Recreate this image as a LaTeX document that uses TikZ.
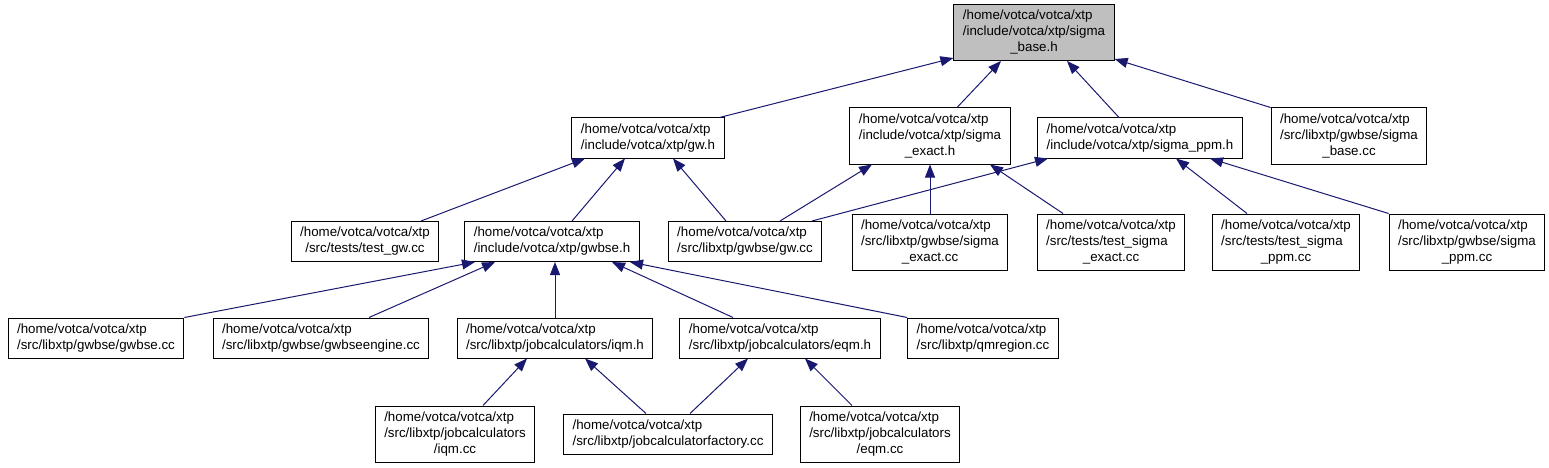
\documentclass[tikz,border=0pt]{standalone}
\usepackage{fontspec}
\setmainfont{Liberation Sans}
\usepackage{tikz}
\usetikzlibrary{arrows.meta}
\definecolor{edgeblue}{RGB}{25,25,112}
\definecolor{rootgray}{RGB}{191,191,191}
% last line of a label is centred, the others start flush left
\newcommand{\twolines}[2]{\begin{tabular}{@{}l@{}}#1\\\multicolumn{1}{@{}c@{}}{#2}\end{tabular}}
\newcommand{\threelines}[3]{\begin{tabular}{@{}l@{}}#1\\#2\\\multicolumn{1}{@{}c@{}}{#3}\end{tabular}}
\tikzset{
  filebox/.style={draw, line width=1pt, fill=white, inner xsep=9pt, inner ysep=4pt, font=\fontsize{13.33}{16}\selectfont},
  rootbox/.style={filebox, fill=rootgray},
  line/.style={draw=edgeblue, line width=1pt, -{Triangle[length=13pt,width=10pt]}}
}

\begin{document}
\begin{tikzpicture}[x=1pt, y=-1pt]
  \useasboundingbox (0,0) rectangle (1549,468);

  % header itself
  \node[rootbox] (sigmabase) at (1034,32.5) {\threelines{/home/votca/votca/xtp}{/include/votca/xtp/sigma}{\_base.h}};

  % second row
  \node[filebox] (gwh) at (648,138) {\twolines{/home/votca/votca/xtp}{/include/votca/xtp/gw.h}};
  \node[filebox] (sigmaexacth) at (930,136) {\threelines{/home/votca/votca/xtp}{/include/votca/xtp/sigma}{\_exact.h}};
  \node[filebox] (sigmappmh) at (1140,138) {\twolines{/home/votca/votca/xtp}{/include/votca/xtp/sigma\_ppm.h}};
  \node[filebox] (sigmabasecc) at (1349,136) {\threelines{/home/votca/votca/xtp}{/src/libxtp/gwbse/sigma}{\_base.cc}};

  % third row
  \node[filebox] (testgwcc) at (365,241.5) {\twolines{/home/votca/votca/xtp}{/src/tests/test\_gw.cc}};
  \node[filebox] (gwbseh) at (552,241.5) {\twolines{/home/votca/votca/xtp}{/include/votca/xtp/gwbse.h}};
  \node[filebox] (gwcc) at (745,241.5) {\twolines{/home/votca/votca/xtp}{/src/libxtp/gwbse/gw.cc}};
  \node[filebox] (sigmaexactcc) at (930,242) {\threelines{/home/votca/votca/xtp}{/src/libxtp/gwbse/sigma}{\_exact.cc}};
  \node[filebox] (testsigmaexactcc) at (1111,242) {\threelines{/home/votca/votca/xtp}{/src/tests/test\_sigma}{\_exact.cc}};
  \node[filebox] (testsigmappmcc) at (1286,242) {\threelines{/home/votca/votca/xtp}{/src/tests/test\_sigma}{\_ppm.cc}};
  \node[filebox] (sigmappmcc) at (1467,242) {\threelines{/home/votca/votca/xtp}{/src/libxtp/gwbse/sigma}{\_ppm.cc}};

  % fourth row
  \node[filebox] (gwbsecc) at (96,338) {\twolines{/home/votca/votca/xtp}{/src/libxtp/gwbse/gwbse.cc}};
  \node[filebox] (gwbseenginecc) at (321,338) {\twolines{/home/votca/votca/xtp}{/src/libxtp/gwbse/gwbseengine.cc}};
  \node[filebox] (iqmh) at (555,338) {\twolines{/home/votca/votca/xtp}{/src/libxtp/jobcalculators/iqm.h}};
  \node[filebox] (eqmh) at (780,338) {\twolines{/home/votca/votca/xtp}{/src/libxtp/jobcalculators/eqm.h}};
  \node[filebox] (qmregioncc) at (983,338) {\twolines{/home/votca/votca/xtp}{/src/libxtp/qmregion.cc}};

  % bottom row
  \node[filebox] (iqmcc) at (455,434) {\threelines{/home/votca/votca/xtp}{/src/libxtp/jobcalculators}{/iqm.cc}};
  \node[filebox] (jobcalcfactorycc) at (668,434) {\twolines{/home/votca/votca/xtp}{/src/libxtp/jobcalculatorfactory.cc}};
  \node[filebox] (eqmcc) at (880,434) {\threelines{/home/votca/votca/xtp}{/src/libxtp/jobcalculators}{/eqm.cc}};

  % includes of sigma_base.h
  \draw[line] ([xshift=-5pt]gwh.north east) -- ([yshift=3pt]sigmabase.south west);
  \draw[line] ([xshift=27pt]sigmaexacth.north) -- ([xshift=-33pt]sigmabase.south);
  \draw[line] ([xshift=-21pt]sigmappmh.north) -- ([xshift=33pt]sigmabase.south);
  \draw[line] (sigmabasecc.north west) -- ([yshift=2pt]sigmabase.south east);

  % includes of gw.h, sigma_exact.h, sigma_ppm.h
  \draw[line] ([xshift=56pt]testgwcc.north) -- ([xshift=-63pt]gwh.south);
  \draw[line] ([xshift=20pt]gwbseh.north) -- ([xshift=-23pt]gwh.south);
  \draw[line] ([xshift=-19pt]gwcc.north) -- ([xshift=25pt]gwh.south);
  \draw[line] ([xshift=35pt]gwcc.north) -- ([xshift=-58pt]sigmaexacth.south);
  \draw[line] ([xshift=67pt]gwcc.north) -- ([xshift=-92pt]sigmappmh.south);
  \draw[line] (sigmaexactcc.north) -- (sigmaexacth.south);
  \draw[line] ([xshift=-48pt]testsigmaexactcc.north) -- ([xshift=60pt]sigmaexacth.south);
  \draw[line] ([xshift=-39pt]testsigmappmcc.north) -- ([xshift=36pt]sigmappmh.south);
  \draw[line] (sigmappmcc.north west) -- ([xshift=70pt]sigmappmh.south);

  % includes of gwbse.h
  \draw[line] (gwbsecc.north east) -- ([xshift=-77pt]gwbseh.south);
  \draw[line] ([xshift=48pt]gwbseenginecc.north) -- ([xshift=-57pt]gwbseh.south);
  \draw[line] (iqmh.north) -- ([xshift=3pt]gwbseh.south);
  \draw[line] ([xshift=-47pt]eqmh.north) -- ([xshift=60pt]gwbseh.south);
  \draw[line] (qmregioncc.north west) -- ([xshift=78pt]gwbseh.south);

  % includes of iqm.h and eqm.h
  \draw[line] ([xshift=28pt]iqmcc.north) -- ([xshift=-28pt]iqmh.south);
  \draw[line] ([xshift=-22pt]jobcalcfactorycc.north) -- ([xshift=30pt]iqmh.south);
  \draw[line] ([xshift=22pt]jobcalcfactorycc.north) -- ([xshift=-32pt]eqmh.south);
  \draw[line] ([xshift=-28pt]eqmcc.north) -- ([xshift=25pt]eqmh.south);
\end{tikzpicture}
\end{document}
